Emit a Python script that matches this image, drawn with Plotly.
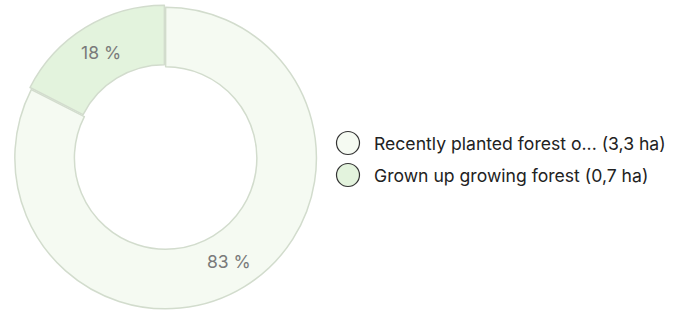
import plotly.graph_objects as go

categories = ["Recently planted forest o...", "Grown up growing forest"]
areas_ha = [3.3, 0.7]
area_labels = ["3,3 ha", "0,7 ha"]
pct_labels = ["83 %", "18 %"]
fill_colors = ["#f5faf2", "#e3f3dd"]

W, H = 681, 311


def px(x):
    return x / W


def py(y):
    return 1 - y / H


fig = go.Figure()
fig.add_trace(go.Pie(
    labels=categories,
    values=areas_ha,
    text=pct_labels,
    textinfo="text",
    textposition="inside",
    insidetextorientation="horizontal",
    sort=False,
    direction="clockwise",
    rotation=0,
    hole=0.605,
    pull=0.008,
    marker=dict(colors=fill_colors, line=dict(color="#d2dccd", width=1.5)),
    textfont=dict(family="Inter", size=17.5, color="#7a7a7a"),
    domain=dict(x=[px(13), px(317)], y=[py(309), py(5)]),
    showlegend=False,
    hoverinfo="label+value",
))

# custom legend with circle markers
shapes = []
annotations = []
leg_y = [143, 175]
for i, (cat, lab) in enumerate(zip(categories, area_labels)):
    cy = leg_y[i]
    r = 11.5
    shapes.append(dict(type="circle", xref="paper", yref="paper",
                       x0=px(348 - r), x1=px(348 + r),
                       y0=py(cy + r), y1=py(cy - r),
                       fillcolor=fill_colors[i], line=dict(color="#333333", width=1.2)))
    annotations.append(dict(xref="paper", yref="paper", x=px(372), y=py(cy),
                            xanchor="left", yanchor="middle", showarrow=False,
                            text=f"{cat} ({lab})",
                            font=dict(family="Inter", size=17.6, color="#222222")))

fig.update_layout(
    width=W, height=H,
    margin=dict(l=0, r=0, t=0, b=0),
    paper_bgcolor="white", plot_bgcolor="white",
    shapes=shapes, annotations=annotations,
)
fig.write_html("out.html", config={"displayModeBar": False},
               post_script="document.body.style.margin='0';")
